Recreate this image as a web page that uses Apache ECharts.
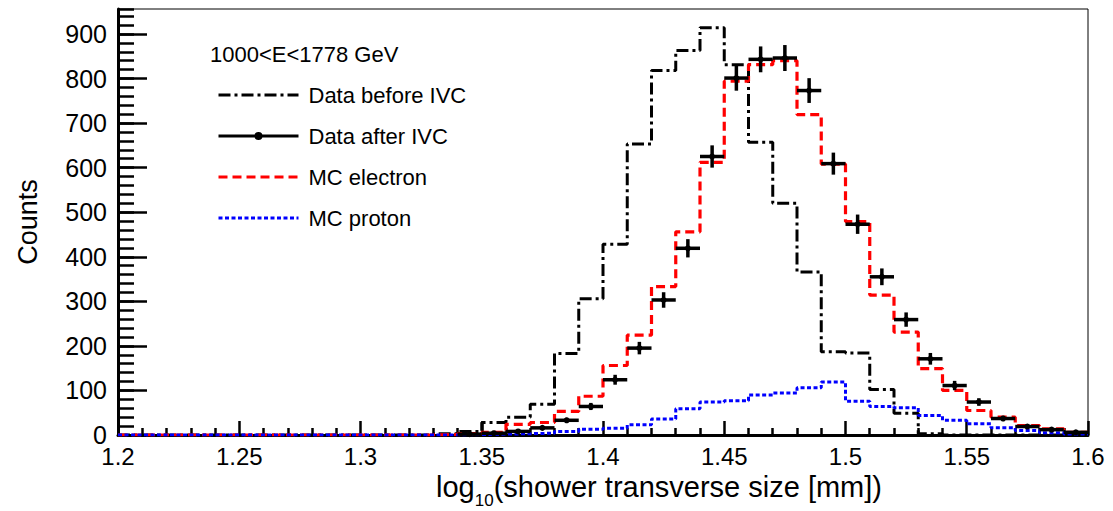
<!DOCTYPE html>
<html>
<head>
<meta charset="utf-8">
<script src="https://cdn.jsdelivr.net/npm/echarts@6/dist/echarts.min.js"></script>
<style>
html,body{margin:0;padding:0;background:#fff;}
#chart{width:1113px;height:511px;}
</style>
</head>
<body>
<div id="chart"></div>
<script>
// ---- data (bins of log10(shower transverse size [mm])) ----
const binLowEdges = [1.20,1.21,1.22,1.23,1.24,1.25,1.26,1.27,1.28,1.29,
                     1.30,1.31,1.32,1.33,1.34,1.35,1.36,1.37,1.38,1.39,
                     1.40,1.41,1.42,1.43,1.44,1.45,1.46,1.47,1.48,1.49,
                     1.50,1.51,1.52,1.53,1.54,1.55,1.56,1.57,1.58,1.59];
const binUpperEdge = 1.60;
const binCenters = [1.205,1.215,1.225,1.235,1.245,1.255,1.265,1.275,1.285,1.295,
                    1.305,1.315,1.325,1.335,1.345,1.355,1.365,1.375,1.385,1.395,
                    1.405,1.415,1.425,1.435,1.445,1.455,1.465,1.475,1.485,1.495,
                    1.505,1.515,1.525,1.535,1.545,1.555,1.565,1.575,1.585,1.595];

const dataBeforeIVC = [0,0,0,0,0,0,0,0,0,0,
                       0,0,0,3,8,28,40,69,183,306,
                       428,653,818,863,914,831,657,520,366,187,
                       184,102,49,3,0,0,0,0,0,0];
const dataAfterIVC = [0,0,0,0,0,0,0,0,0,0,
                      0,0,0,0,2,4,8,16,33,64,
                      124,195,303,419,625,801,843,846,773,609,
                      473,355,259,171,111,74,37,19,12,6];
const dataAfterErr = [0,0,0,0,0,0,0,0,0,0,
                      0,0,0,0,1.4,2,2.8,4,5.7,8,
                      11.1,14,17.4,20.5,25,28.3,29,29.1,27.8,24.7,
                      21.7,18.8,16.1,13.1,10.5,8.6,6.1,4.4,3.5,2.4];
const mcElectron = [0,0,0,0,0,0,0,0,0,0,
                    0,0,0,1,3,6,24,28,53,87,
                    156,224,333,456,612,794,831,840,719,608,
                    479,314,231,149,100,55,40,21,14,6];
const mcProton = [0,0,0,0,0,0,0,0,0,0,
                  0,0,0,0,1,2,3,4,8,13,
                  15,23,36,59,74,77,90,94,106,119,
                  76,64,61,44,33,25,16,10,5,2];

const seriesNames = ['Data before IVC','Data after IVC','MC electron','MC proton'];
const energyLabel = '1000<E<1778 GeV';

// ---- helpers building library data from the arrays ----
function stepData(vals){
  const pts = binLowEdges.map((e,i)=>[e, vals[i]]);
  pts.push([binUpperEdge, vals[vals.length-1]]);
  return pts;
}
const afterPoints = [];
binCenters.forEach((c,i)=>{
  if (dataAfterIVC[i] > 0) {
    const hi = i < binLowEdges.length-1 ? binLowEdges[i+1] : binUpperEdge;
    afterPoints.push([c, dataAfterIVC[i], dataAfterErr[i], binLowEdges[i], hi]);
  }
});

const FONT = 'Liberation Sans, Arial, sans-serif';
const chart = echarts.init(document.getElementById('chart'), null, {renderer:'svg'});

chart.setOption({
  backgroundColor:'#fff',
  animation:false,
  title:{
    text: energyLabel,
    left: 205, top: 38,
    textStyle:{fontFamily:FONT, fontSize:22, fontWeight:'normal', color:'#000'}
  },
  legend:{
    orient:'vertical',
    left: 212, top: 79,
    itemWidth: 80, itemHeight: 8,
    itemGap: 19,
    selectedMode:false,
    itemStyle:{opacity:0},
    lineStyle:{width:3},
    textStyle:{fontFamily:FONT, fontSize:22, color:'#000', padding:[0,0,0,5]},
    data:[
      {name:seriesNames[0]},
      {name:seriesNames[1], itemStyle:{opacity:1, color:'#000'},
       icon:'path://M0,2.5L80,2.5L80,5.5L0,5.5Z M36,4A4,4 0 1,1 44,4A4,4 0 1,1 36,4Z'},
      {name:seriesNames[2]},
      {name:seriesNames[3]}
    ]
  },
  grid:{left:118, right:25, top:9, bottom:76, show:true, borderColor:'#000', borderWidth:1,
        outerBoundsMode:'none', containLabel:false},
  xAxis:{
    type:'value', min:1.2, max:1.6, interval:0.05,
    name:'{t|log}{s|10}{t|(shower transverse size [mm])}',
    nameLocation:'middle', nameGap:34,
    nameTextStyle:{
      padding:[0,0,0,112],
      rich:{
        t:{fontFamily:FONT, fontSize:29, color:'#000', verticalAlign:'top', lineHeight:32},
        s:{fontFamily:FONT, fontSize:17, color:'#000', verticalAlign:'top', lineHeight:32, padding:[19,0,0,0]}
      }
    },
    axisLine:{lineStyle:{color:'#000', width:3}},
    axisTick:{inside:true, length:14, lineStyle:{color:'#000', width:2.5}},
    minorTick:{show:true, splitNumber:5, length:7, lineStyle:{color:'#000', width:2.5}},
    splitLine:{show:false},
    axisLabel:{fontFamily:FONT, fontSize:24, color:'#000', margin:9,
      formatter:(v)=>String(+v.toFixed(2))}
  },
  yAxis:[{
    type:'value', min:0, max:956, interval:100,
    name:'Counts', nameLocation:'middle', nameGap:77,
    nameTextStyle:{fontFamily:FONT, fontSize:27, color:'#000'},
    axisLine:{show:true, lineStyle:{color:'#000', width:3}},
    axisTick:{show:true, inside:true, length:29, lineStyle:{color:'#000', width:2.5}},
    splitLine:{show:false},
    axisLabel:{fontFamily:FONT, fontSize:25, color:'#000', margin:11, showMaxLabel:false}
  },{
    type:'value', min:0, max:956, interval:20, position:'left', offset:0,
    axisLine:{show:false},
    axisTick:{show:true, inside:true, length:16, lineStyle:{color:'#000', width:2.5}},
    axisLabel:{show:false},
    splitLine:{show:false}
  }],
  series:[
    {
      name:seriesNames[0], type:'line', step:'end', symbol:'none',
      data: stepData(dataBeforeIVC),
      itemStyle:{color:'#000'},
      lineStyle:{color:'#000', width:3, type:[12,4,3,4]},
      z:3
    },
    {
      name:seriesNames[2], type:'line', step:'end', symbol:'none',
      data: stepData(mcElectron),
      itemStyle:{color:'#ff0000'},
      lineStyle:{color:'#ff0000', width:3.2, type:[9,5]},
      z:4
    },
    {
      name:seriesNames[3], type:'line', step:'end', symbol:'none',
      data: stepData(mcProton),
      itemStyle:{color:'#0000ff'},
      lineStyle:{color:'#0000ff', width:3, type:[4,2.5]},
      z:5
    },
    {
      name:seriesNames[1], type:'custom',
      itemStyle:{color:'#000'},
      data: afterPoints,
      encode:{x:0, y:1},
      z:6,
      renderItem:(params, api)=>{
        const x = api.value(0), y = api.value(1), e = api.value(2);
        const lo = api.value(3), hi = api.value(4);
        const c = api.coord([x, y]);
        const L = api.coord([lo, y]);
        const R = api.coord([hi, y]);
        const T = api.coord([x, y + e]);
        const B = api.coord([x, Math.max(0, y - e)]);
        return {type:'group', children:[
          {type:'line', shape:{x1:L[0], y1:c[1], x2:R[0], y2:c[1]}, style:{stroke:'#000', lineWidth:3.5}},
          {type:'line', shape:{x1:c[0], y1:T[1], x2:c[0], y2:B[1]}, style:{stroke:'#000', lineWidth:3.5}},
          {type:'circle', shape:{cx:c[0], cy:c[1], r:3}, style:{fill:'#000'}}
        ]};
      }
    }
  ]
});
</script>
</body>
</html>
